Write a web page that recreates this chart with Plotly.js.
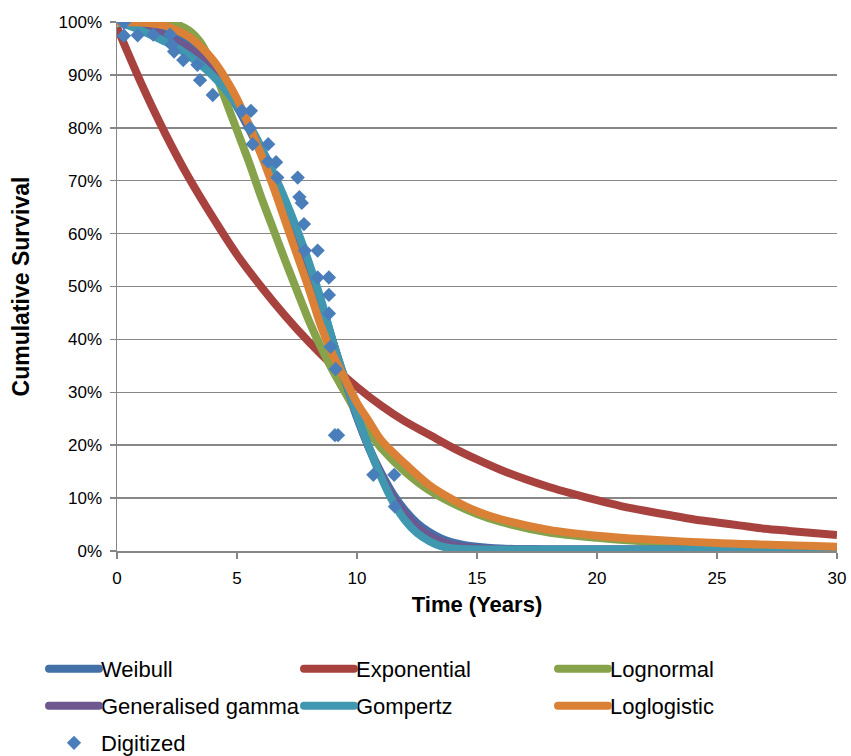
<!DOCTYPE html>
<html>
<head>
<meta charset="utf-8">
<script src="https://cdn.plot.ly/plotly-3.0.1.min.js"></script>
<style>html,body{margin:0;padding:0;background:#fff}#chart{width:851px;height:756px}</style>
</head>
<body>
<div id="chart"></div>
<script>
// ---- Data ----
const weibullX = [0,0.5,1,1.5,2,2.5,3,3.5,4,4.5,5,5.5,6,6.5,7,7.5,8,8.5,9,9.5,10,10.5,11,11.5,12,12.5,13,13.5,14,15,16,18,20,25,30];
const weibullY = [100,99.9,99.6,99,98.2,97,95.5,93.5,90.8,87.6,84,79.8,75.2,70.2,64.8,59,53,47,39.5,32,25.2,19.5,14.8,10.8,7.7,5.3,3.6,2.4,1.6,0.8,0.45,0.3,0.3,0.3,0.3];

const expX = [0,1,2,3,4,5,6,7,8,9,10,11,12,13,14,15,16,17,18,19,20,21,22,23,24,25,26,27,28,29,30];
const expY = [99,88.5,79,70.5,63,56,50,44.5,39.5,35,31,27.5,24.5,22,19.5,17.3,15.3,13.6,12.1,10.8,9.6,8.5,7.6,6.8,6.0,5.4,4.8,4.2,3.8,3.4,3.0];

const lognormalX = [0,1,2,2.5,3,3.5,4,4.5,5,5.5,6,6.5,7,7.5,8,8.5,9,9.5,10,10.5,11,12,13,14,15,16,18,20,22,25,30];
const lognormalY = [100,100,99.9,99.5,98.4,96,91.5,85.5,79.5,73.5,67,61,55,49.2,43.5,38.5,34,30,26,22.5,19.5,15,11.5,9,7,5.5,3.5,2.5,1.8,1.1,0.6];

const gengammaX = [0,0.5,1,1.5,2,2.5,3,3.5,4,4.5,5,5.5,6,6.5,7,7.5,8,8.5,9,9.5,10,10.5,11,11.5,12,12.5,13,13.5,14,15,16,18,20,25,30];
const gengammaY = [100,99.8,99.2,98.4,97.4,96.3,95,93.5,91.2,88.2,84.5,80.3,75.5,70.3,64.8,58.8,52.6,46.3,39.5,32.3,25.5,19.5,14.5,10.2,7,4.6,2.9,1.8,1.1,0.5,0.35,0.3,0.3,0.3,0.3];

const gompertzX = [0,0.5,1,1.5,2,2.5,3,3.5,4,4.5,5,5.5,6,6.5,7,7.5,8,8.5,9,9.5,10,10.5,11,11.5,12,12.5,13,13.5,14,15,20,25,30];
const gompertzY = [100,99.3,98.4,97.4,96.3,95.1,93.6,91.9,89.8,87.3,84.3,80.6,76.4,71.6,66.5,60.8,54.5,47.5,39.5,32.5,25.7,19.6,14,9.3,5.8,3.4,1.9,0.9,0.5,0.3,0.3,0.3,0.3];

const loglogisticX = [0,1,2,3,3.5,4,4.5,5,5.5,6,6.5,7,7.5,8,8.5,9,9.5,10,10.5,11,12,13,14,15,16,18,20,22,25,30];
const loglogisticY = [100,99.9,99.3,97.2,95.3,92.8,89.5,85.5,80.5,75,69,62.5,56,49.5,42.5,37,32.5,28,24.5,21,16.5,12.5,9.7,7.5,6.0,4.0,2.9,2.2,1.5,0.8];

const digitizedX = [0.29,0.29,0.86,1.51,2.21,2.28,2.38,2.76,3.35,3.46,3.99,5.20,5.58,5.54,5.65,6.30,6.30,6.63,6.68,7.53,7.60,7.70,7.79,7.83,8.36,8.36,8.83,8.83,8.83,8.90,9.11,9.08,9.21,10.68,11.55,11.58];
const digitizedY = [99.9,97.4,97.5,97.6,97.6,95.7,94.4,92.8,91.9,89.0,86.2,83.2,83.2,79.9,76.9,76.9,73.6,73.5,70.6,70.6,66.9,65.8,61.8,56.8,56.8,51.7,51.7,48.4,44.9,38.6,34.4,21.9,21.9,14.4,14.4,8.4];

const xTicks = [0,5,10,15,20,25,30];
const yTicks = [0,10,20,30,40,50,60,70,80,90,100];
const yTickText = ['0%','10%','20%','30%','40%','50%','60%','70%','80%','90%','100%'];

// ---- Styles ----
const FONT = 'Liberation Sans, Arial, sans-serif';
const LW = 8;
function lineTrace(name, x, y, color, legend) {
  return {type:'scatter', mode:'lines', name, x, y, legend,
    line:{color, width:LW, shape:'spline', smoothing:0.8}, hoverinfo:'skip'};
}
const traces = [
  lineTrace('Weibull', weibullX, weibullY, '#4470A8', 'legend'),
  lineTrace('Exponential', expX, expY, '#A8423F', 'legend2'),
  lineTrace('Lognormal', lognormalX, lognormalY, '#86A34C', 'legend3'),
  lineTrace('Generalised gamma', gengammaX, gengammaY, '#6F5790', 'legend4'),
  lineTrace('Gompertz', gompertzX, gompertzY, '#3F98B0', 'legend5'),
  lineTrace('Loglogistic', loglogisticX, loglogisticY, '#DA8137', 'legend6'),
  {type:'scatter', mode:'markers', name:'Digitized', x:digitizedX, y:digitizedY, legend:'legend7',
    marker:{symbol:'diamond', size:11, color:'#4A7EBB'}, hoverinfo:'skip'}
];

// legend slot positions (container pixels): column start x, row centre y
const legendCols = [44, 299, 553];
const legendRows = [669, 706, 743];
function legendAt(col, row) {
  return {
    orientation:'h', xref:'container', yref:'container', xanchor:'left', yanchor:'middle',
    x: legendCols[col]/851, y: (756-legendRows[row])/756, itemwidth:47,
    font:{family:FONT, size:22, color:'#000'}, bgcolor:'rgba(0,0,0,0)'
  };
}

const layout = {
  width:851, height:756,
  margin:{l:117, r:14, t:22, b:205},
  paper_bgcolor:'#fff', plot_bgcolor:'#fff',
  font:{family:FONT, size:17, color:'#000'},
  showlegend:true,
  legend:legendAt(0,0), legend2:legendAt(1,0), legend3:legendAt(2,0),
  legend4:legendAt(0,1), legend5:legendAt(1,1), legend6:legendAt(2,1),
  legend7:legendAt(0,2),
  xaxis:{
    range:[0,30], tickvals:xTicks, ticks:'outside', ticklen:6, tickcolor:'#868686', tickwidth:1.5,
    showline:true, linecolor:'#868686', linewidth:1.5, showgrid:false, zeroline:false,
    ticklabelstandoff:5,
    tickfont:{family:FONT, size:17, color:'#000'},
    title:{text:'<b>Time (Years)</b>', font:{family:FONT, size:22, color:'#000'}, standoff:9}
  },
  yaxis:{
    range:[0,100], tickvals:yTicks, ticktext:yTickText, ticks:'outside', ticklen:6, tickcolor:'#868686', tickwidth:1.5,
    showline:true, linecolor:'#868686', linewidth:1.5, showgrid:true, gridcolor:'#878787', gridwidth:1.5, zeroline:false,
    ticklabelstandoff:4,
    tickfont:{family:FONT, size:17, color:'#000'},
    title:{text:'<b>Cumulative Survival</b>', font:{family:FONT, size:23, color:'#000'}, standoff:22}
  }
};

Plotly.newPlot('chart', traces, layout, {staticPlot:true, displayModeBar:false}).then(function(gd){
  // Excel-style longer, round-capped legend keys
  gd.querySelectorAll('.legendlines path').forEach(function(p){
    p.setAttribute('d','M5,0h50');
    p.style.strokeLinecap = 'round';
  });
  gd.querySelectorAll('.legend7 .legendpoints path, .legendpoints path.scatterpts').forEach(function(p){
    p.setAttribute('transform','translate(30,0)');
  });
});
</script>
</body>
</html>
